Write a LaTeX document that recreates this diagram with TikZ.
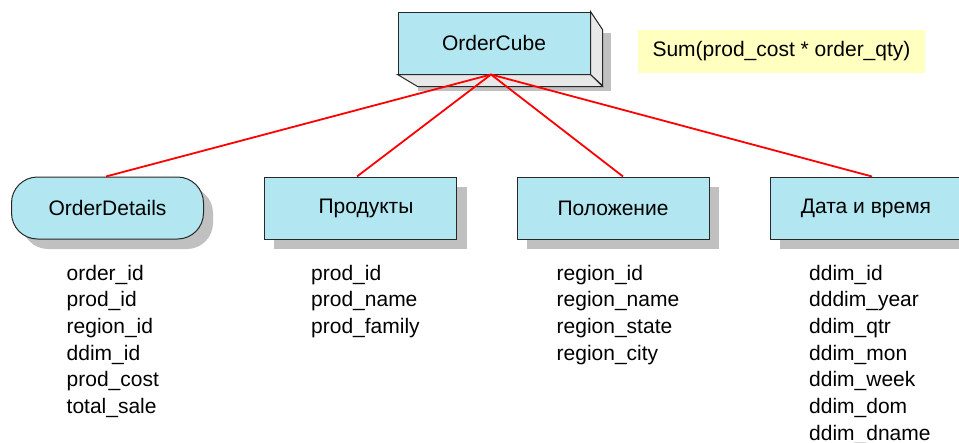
\documentclass[tikz,border=0pt]{standalone}
\usepackage{fontspec}
\setmainfont{Liberation Sans}
\usetikzlibrary{calc}
\definecolor{cellfill}{RGB}{178,230,240}
\definecolor{shadowgray}{RGB}{192,192,192}
\definecolor{sidegray}{RGB}{232,232,232}
\definecolor{notefill}{RGB}{255,255,192}
\definecolor{linkred}{RGB}{255,0,0}
\definecolor{edgegray}{RGB}{40,40,40}
\tikzset{
  txt/.style={font=\fontsize{21}{24}\selectfont, inner sep=0pt},
  dimbox/.style={txt, draw=edgegray, line width=1pt, fill=cellfill,
    minimum width=192pt, minimum height=62pt},
  shadowbox/.style={fill=shadowgray, draw=none},
  field/.style={txt, anchor=base west},
  link/.style={draw=linkred, line width=1.8pt},
}
\begin{document}
\begin{tikzpicture}[x=1pt, y=-1pt]
\useasboundingbox (0,0) rectangle (959,442);

% drop shadows
\fill[shadowgray] (418,33) rectangle (611,91);
\fill[shadowgray, rounded corners=26pt] (22,187) rectangle (213,249);
\fill[shadowgray] (274,187) rectangle (467,249);
\fill[shadowgray] (527,187) rectangle (719,249);
\fill[shadowgray] (780,187) rectangle (972,249);

% the cube: front face with extruded sides
\node[dimbox] (cube) at (494,43) {};
\fill[sidegray, draw=edgegray, line width=1pt]
  (cube.south west) -- (cube.south east) -- ++(12,12)
  -- ($(cube.south west)+(20,12)$) -- cycle;
\fill[sidegray, draw=edgegray, line width=1pt]
  (cube.north east) -- ++(12,18) -- ++(0,56) -- (cube.south east) -- cycle;
\node[dimbox] (cubeface) at (494,43) {OrderCube};
\coordinate (apex) at ($(cubeface.south)+(-3,0)$);

% dimension boxes
\node[dimbox, rounded corners=26pt] (od) at (107.5,208) {OrderDetails};
\node[dimbox] (prod) at (360.5,208) {\hspace*{11pt}Продукты};
\node[dimbox] (loc) at (613,208) {Положение};
\node[dimbox] (dt) at (866,208) {Дата и время};

% links from the cube to each dimension
\draw[link] (apex) -- ($(od.north)+(-1.5,0)$);
\draw[link] (apex) -- ($(prod.north)+(-3.5,0)$);
\draw[link] (apex) -- ($(loc.north)+(10,0)$);
\draw[link] (apex) -- ($(dt.north)+(6,0)$);

% measure formula
\node[txt, fill=notefill, minimum width=287pt, minimum height=43pt] (measure)
  at (781.5,51.5) {Sum(prod\_cost * order\_qty)};

% attribute lists
\foreach [count=\i] \t in {order\_id, prod\_id, region\_id, ddim\_id, prod\_cost, total\_sale}
  \node[field] (odf\i) at (66.5, 280+26.7*\i-26.7) {\t};
\foreach [count=\i] \t in {prod\_id, prod\_name, prod\_family}
  \node[field] (pf\i) at (311, 280+26.7*\i-26.7) {\t};
\foreach [count=\i] \t in {region\_id, region\_name, region\_state, region\_city}
  \node[field] (lf\i) at (556.5, 280+26.7*\i-26.7) {\t};
\foreach [count=\i] \t in {ddim\_id, dddim\_year, ddim\_qtr, ddim\_mon, ddim\_week, ddim\_dom, ddim\_dname}
  \node[field] (df\i) at (809, 280+26.7*\i-26.7) {\t};
\end{tikzpicture}
\end{document}
